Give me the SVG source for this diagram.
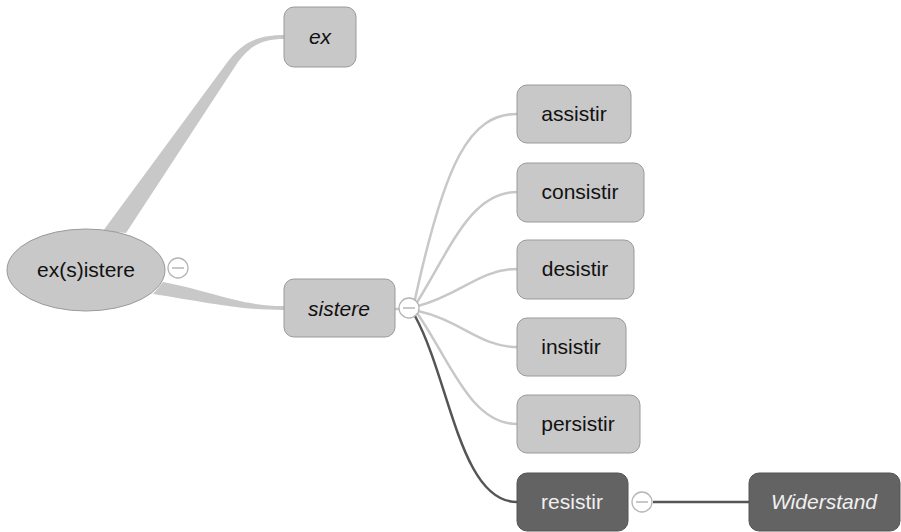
<svg xmlns="http://www.w3.org/2000/svg" width="901" height="532" viewBox="0 0 901 532">
<style>
.n rect, .n ellipse { fill:#c8c8c8; stroke:#9a9a9a; stroke-width:1; }
.d rect { fill:#636363; stroke:#555; stroke-width:1; }
text { font-family:"Liberation Sans", Arial, sans-serif; font-size:21px; text-anchor:middle; }
.n text { fill:#111; }
.d text { fill:#f0f0f0; }
.it { font-style:italic; }
.lc { fill:none; stroke:#c8c8c8; stroke-width:2.5; }
.dc { fill:none; stroke:#555; stroke-width:2.5; }
.band { fill:#c8c8c8; }
.tg circle { fill:#fff; stroke:#b5b5b5; stroke-width:1.3; }
.tg line { stroke:#aaa; stroke-width:1.3; }
</style>
<rect width="901" height="532" fill="#fff"/>
<g id="connectors">
  <path class="band" d="M103,231 L226,64 C242,42 258,35 284,35 L284,39 C262,39 251,45 238,62 L126,233 Z"/>
  <path class="band" d="M163,282 C215,292 240,306 284,306 L284,310 C238,310 205,302 153,294 Z"/>
  <line class="lc" x1="395" y1="309" x2="400" y2="309"/>
  <path class="lc" d="M414,304 C445,160 470,114 517,114"/>
  <path class="lc" d="M416,304 C450,250 470,192 517,192"/>
  <path class="lc" d="M418,306 C460,295 480,269 517,269"/>
  <path class="lc" d="M418,311 C460,320 480,347 517,347"/>
  <path class="lc" d="M417,313 C450,360 470,424 517,424"/>
  <path class="dc" d="M415,316 C450,380 460,502 517,502"/>
  <line class="dc" x1="653" y1="502" x2="749" y2="502"/>
</g>
<g id="node-existere" class="n">
  <ellipse cx="86" cy="270" rx="79" ry="41"/>
  <text x="86" y="277">ex(s)istere</text>
</g>
<g id="toggle-existere" class="tg">
  <circle cx="178" cy="268" r="10"/>
  <line x1="172" y1="268" x2="184" y2="268"/>
</g>
<g id="node-ex" class="n">
  <rect x="284" y="7" width="72" height="60" rx="10"/>
  <text x="320" y="44" class="it">ex</text>
</g>
<g id="node-sistere" class="n">
  <rect x="284" y="279" width="111" height="58" rx="10"/>
  <text x="339" y="316" class="it">sistere</text>
</g>
<g id="toggle-sistere" class="tg">
  <circle cx="409" cy="308" r="10"/>
  <line x1="403" y1="308" x2="415" y2="308"/>
</g>
<g id="node-assistir" class="n">
  <rect x="517" y="85" width="114" height="58" rx="10"/>
  <text x="574" y="121">assistir</text>
</g>
<g id="node-consistir" class="n">
  <rect x="517" y="163" width="127" height="59" rx="10"/>
  <text x="580" y="199">consistir</text>
</g>
<g id="node-desistir" class="n">
  <rect x="517" y="240" width="117" height="59" rx="10"/>
  <text x="575" y="276">desistir</text>
</g>
<g id="node-insistir" class="n">
  <rect x="517" y="318" width="109" height="58" rx="10"/>
  <text x="571" y="354">insistir</text>
</g>
<g id="node-persistir" class="n">
  <rect x="517" y="395" width="123" height="58" rx="10"/>
  <text x="578" y="431">persistir</text>
</g>
<g id="node-resistir" class="d">
  <rect x="517" y="473" width="111" height="58" rx="10"/>
  <text x="572" y="509">resistir</text>
</g>
<g id="toggle-resistir" class="tg">
  <circle cx="642" cy="502" r="10"/>
  <line x1="636" y1="502" x2="648" y2="502"/>
</g>
<g id="node-widerstand" class="d">
  <rect x="749" y="473" width="151" height="58" rx="10"/>
  <text x="824" y="509" class="it">Widerstand</text>
</g>
</svg>
